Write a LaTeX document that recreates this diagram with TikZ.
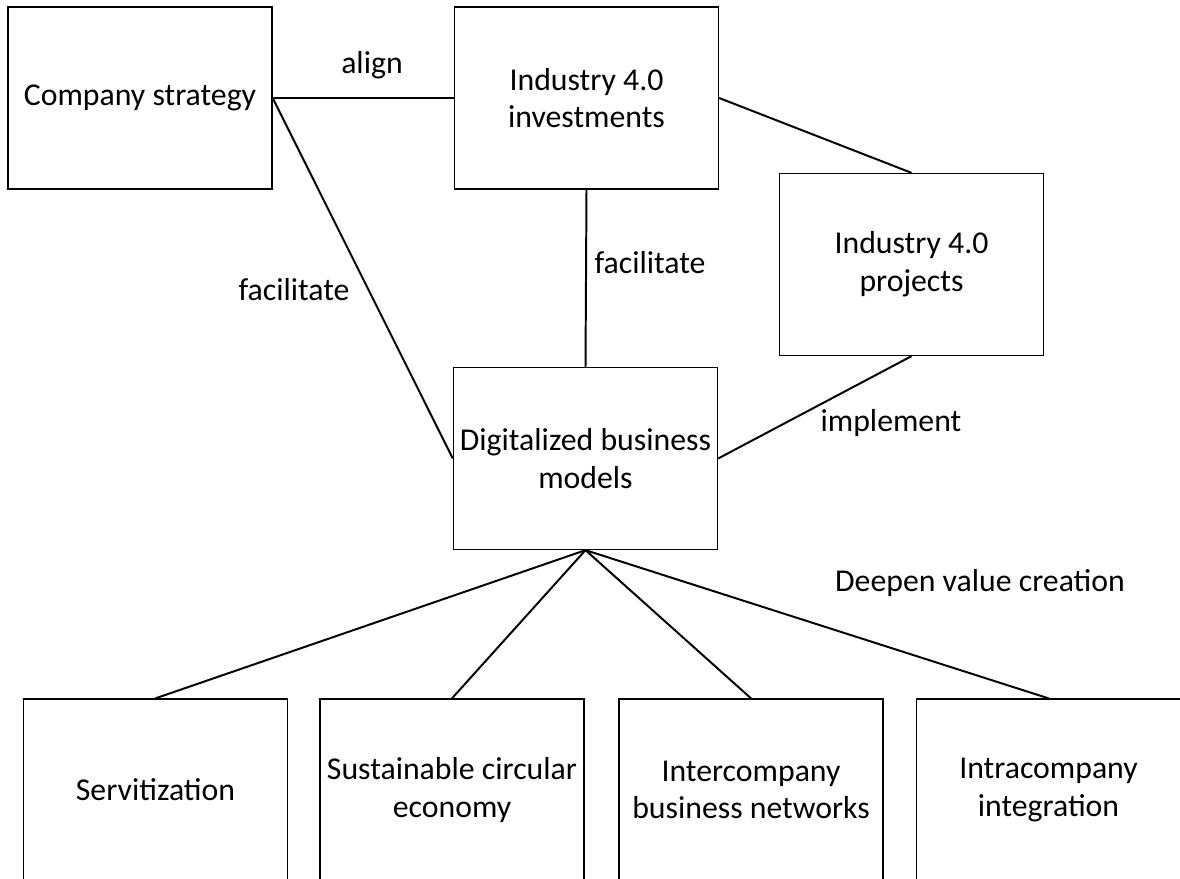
\documentclass[tikz,border=0pt]{standalone}
\usepackage{fontspec}
\setmainfont{Carlito}
\usepackage{tikz}
\usetikzlibrary{positioning}
\tikzset{box/.style={draw, line width=0.9pt, minimum width=6.6cm, minimum height=4.55cm, align=center, inner sep=0pt}}
\tikzset{link/.style={line width=1.4pt}}
\tikzset{lbl/.style={inner sep=0pt}}

\begin{document}
\begin{tikzpicture}[x=0.025cm,y=-0.025cm,font=\fontsize{22.6}{26.8}\selectfont]
\clip (0,0) rectangle (1180,879);
\useasboundingbox (0,0) rectangle (1180,879);
% top row
\node[box] (strategy) at (140,98) {Company strategy};
\node[box] (invest) at (586.5,98) {Industry 4.0\\investments};
\node[box] (projects) at (911.5,264.5) {Industry 4.0\\projects};
\node[box] (dbm) at (585.5,458.5) {Digitalized business\\models};
% bottom row
\node[box] (servi) at (155.5,790) {Servitization};
\node[box] (circular) at (452,790) {Sustainable circular\\economy};
\node[box] (inter) at (751,790) {Intercompany\\business networks};
\node[box] (intra) at (1048.5,790) {Intracompany\\integration};
% connectors
\draw[link] (strategy.east) -- (invest.west);
\draw[link] (strategy.east) -- (dbm.west);
\draw[link] (invest.east) -- (projects.north);
\draw[link] (invest.south) -- (dbm.north);
\draw[link] (projects.south) -- (dbm.east);
\foreach \b in {servi,circular,inter,intra} {
\draw[link] (dbm.south) -- (\b.north);
}
% labels
\node[lbl] (align) at (372,65) {align};
\node[lbl] (facleft) at (294,290) {facilitate};
\node[lbl] (facmid) at (650,263) {facilitate};
\node[lbl] (impl) at (891,423) {implement};
\node[lbl] (deepen) at (980,583) {Deepen value creation};
\end{tikzpicture}
\end{document}
